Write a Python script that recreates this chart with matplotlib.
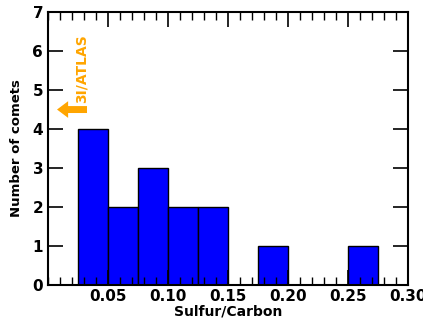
import numpy as np
import matplotlib.pyplot as plt
from matplotlib.ticker import MultipleLocator

# histogram of S/C ratio, bins of 0.025
bin_edges = [0.025, 0.05, 0.075, 0.10, 0.125, 0.15, 0.175, 0.20, 0.225, 0.25, 0.275]
counts = [4, 2, 3, 2, 2, 0, 1, 0, 0, 1]
atlas_value = 0.0325

plt.rcParams['font.family'] = 'DejaVu Sans'
plt.rcParams['font.weight'] = 'bold'

fig = plt.figure(figsize=(4.23, 3.2), dpi=100)
ax = fig.add_axes([0.1135, 0.109, 0.851, 0.8535])

centers = [(bin_edges[i] + bin_edges[i + 1]) / 2 for i in range(len(counts))]
ax.hist(centers, bins=bin_edges, weights=counts, color='blue', edgecolor='black', linewidth=1.0)

# arrow + label for 3I/ATLAS
ax.annotate('', xy=(0.0075, 4.5), xytext=(atlas_value, 4.5),
            arrowprops=dict(arrowstyle='simple,head_width=1.2,head_length=0.8,tail_width=0.5',
                            color='orange', lw=0, shrinkA=0, shrinkB=0))
ax.text(0.028, 4.68, '3I/ATLAS', rotation=90, color='orange', fontsize=10,
        fontweight='bold', ha='center', va='bottom')

ax.set_xlim(0, 0.30)
ax.set_ylim(0, 7)
ax.xaxis.set_major_locator(MultipleLocator(0.05))
ax.xaxis.set_minor_locator(MultipleLocator(0.01))
ax.yaxis.set_major_locator(MultipleLocator(1))
ax.set_xticks([0.05, 0.10, 0.15, 0.20, 0.25, 0.30])
ax.set_xticklabels(['0.05', '0.10', '0.15', '0.20', '0.25', '0.30'])

ax.tick_params(which='both', direction='in', top=True, right=True, labelsize=11)
ax.tick_params(which='major', length=11, width=1.2)
ax.tick_params(which='minor', length=6, width=1.0)
ax.tick_params(axis='x', pad=3)
for s in ax.spines.values():
    s.set_linewidth(1.5)

ax.set_xlabel('Sulfur/Carbon', fontsize=10, fontweight='bold', labelpad=0)
ax.set_ylabel('Number of comets', fontsize=9.5, fontweight='bold', labelpad=7)

fig.savefig('out.png', dpi=100)
